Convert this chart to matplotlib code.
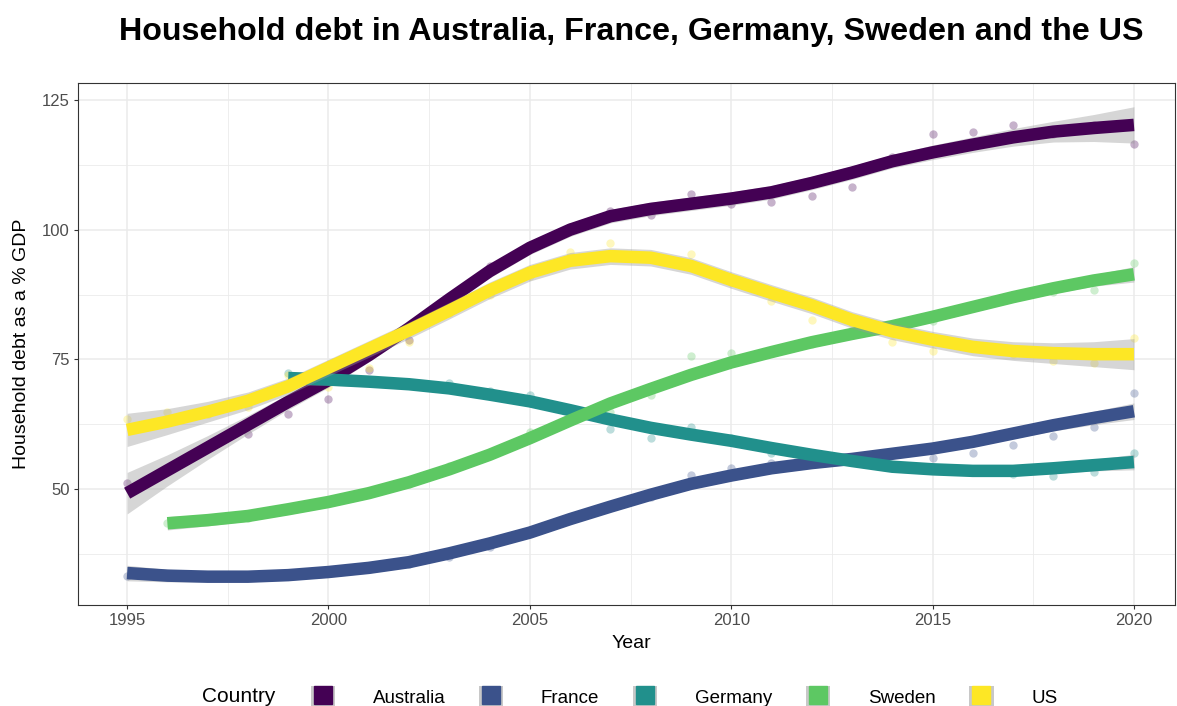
import numpy as np
import matplotlib
matplotlib.use('Agg')
from matplotlib import pyplot as plt
from matplotlib.patches import Patch
from matplotlib.lines import Line2D
from matplotlib.legend_handler import HandlerTuple

plt.rcParams['font.family'] = ['Liberation Sans', 'DejaVu Sans']

countries = ['Australia', 'France', 'Germany', 'Sweden', 'US']
colors = ['#440154', '#3B528B', '#21908C', '#5DC863', '#FDE725']

years_all = list(range(1995, 2021))
years_ger = list(range(1999, 2021))
years_swe = list(range(1996, 2021))

# observed values (points)
aus_pts = [51.1, 54.1, 58.0, 60.7, 64.5, 67.4, 73.0, 78.8, 87.0, 93.0, 97.1, 100.6, 103.6,
           102.8, 106.8, 105.0, 105.3, 106.4, 108.2, 114.0, 118.5, 118.9, 120.2, 118.5, 120.2, 116.6]
fra_pts = [33.2, 33.5, 33.3, 33.0, 33.6, 34.0, 34.5, 35.5, 36.9, 38.8, 41.5, 44.5, 46.5,
           48.5, 52.7, 54.0, 55.0, 55.5, 55.8, 56.5, 56.0, 57.0, 58.4, 60.2, 62.0, 68.5]
ger_pts = [72.3, 71.2, 70.8, 70.2, 70.5, 68.9, 68.1, 65.0, 61.6, 59.8, 62.0, 59.8, 56.9,
           56.5, 55.5, 54.5, 54.0, 53.7, 52.9, 52.5, 53.3, 56.9]
swe_pts = [43.4, 44.2, 44.5, 46.0, 47.5, 49.5, 51.0, 54.5, 57.0, 61.0, 63.5, 64.9, 68.1,
           75.7, 76.2, 76.5, 78.0, 80.5, 81.5, 82.4, 85.0, 87.0, 88.0, 88.4, 93.6]
us_pts = [63.5, 64.9, 64.5, 65.8, 72.0, 69.7, 73.4, 78.4, 84.0, 87.5, 91.0, 95.7, 97.5,
          94.5, 95.4, 90.0, 86.3, 82.6, 82.0, 78.4, 76.6, 77.5, 76.0, 74.7, 74.3, 79.1]

# smoothed trend and half width of the band
aus_fit = [49.2, 53.6, 58.0, 62.4, 66.8, 71.0, 75.8, 81.0, 86.6, 92.0, 96.5, 100.0, 102.6,
           104.0, 105.0, 106.0, 107.2, 109.0, 111.0, 113.2, 114.9, 116.4, 117.8, 118.9, 119.6, 120.2]
fra_fit = [33.8, 33.3, 33.1, 33.1, 33.4, 34.0, 34.8, 35.9, 37.6, 39.5, 41.6, 44.2, 46.6,
           48.9, 51.0, 52.6, 54.0, 55.0, 55.8, 56.8, 57.8, 59.1, 60.7, 62.3, 63.7, 65.0]
ger_fit = [71.4, 71.1, 70.7, 70.2, 69.4, 68.2, 66.9, 65.2, 63.4, 61.8, 60.5, 59.3, 57.9,
           56.6, 55.4, 54.3, 53.8, 53.5, 53.5, 54.0, 54.6, 55.2]
swe_fit = [43.4, 44.0, 44.8, 46.1, 47.5, 49.2, 51.3, 53.8, 56.6, 59.8, 63.2, 66.5, 69.3,
           72.0, 74.4, 76.4, 78.3, 79.9, 81.4, 83.2, 85.1, 87.0, 88.7, 90.2, 91.4]
us_fit = [61.4, 63.0, 64.9, 67.0, 69.8, 73.4, 77.0, 80.6, 84.4, 88.3, 91.7, 94.0, 94.9,
          94.6, 93.0, 90.3, 87.8, 85.4, 82.6, 80.4, 78.8, 77.4, 76.6, 76.2, 76.0, 76.0]

aus_se = [4.0, 3.0, 2.3, 1.8, 1.5, 1.4, 1.3, 1.3, 1.3, 1.3, 1.3, 1.3, 1.3,
          1.3, 1.3, 1.3, 1.3, 1.3, 1.3, 1.3, 1.4, 1.5, 1.7, 2.0, 2.6, 3.5]
fra_se = [1.5, 1.2, 1.0, 1.0, 1.0, 1.0, 1.0, 1.0, 1.0, 1.0, 1.0, 1.0, 1.0,
          1.0, 1.0, 1.0, 1.0, 1.0, 1.0, 1.0, 1.0, 1.0, 1.0, 1.1, 1.3, 1.6]
ger_se = [1.3, 1.1, 1.0, 1.0, 1.0, 1.0, 1.0, 1.0, 1.0, 1.0, 1.0, 1.0, 1.0,
          1.0, 1.0, 1.0, 1.0, 1.0, 1.0, 1.0, 1.1, 1.5]
swe_se = [1.3, 1.1, 1.0, 1.0, 1.0, 1.0, 1.0, 1.0, 1.0, 1.0, 1.0, 1.0, 1.0,
          1.0, 1.0, 1.0, 1.0, 1.0, 1.0, 1.0, 1.0, 1.0, 1.0, 1.1, 1.5]
us_se = [3.2, 2.5, 2.0, 1.7, 1.6, 1.6, 1.6, 1.6, 1.6, 1.6, 1.6, 1.6, 1.6,
         1.6, 1.6, 1.6, 1.6, 1.6, 1.6, 1.6, 1.6, 1.7, 1.8, 2.0, 2.4, 3.0]

series = [
    (years_all, aus_pts, aus_fit, aus_se),
    (years_all, fra_pts, fra_fit, fra_se),
    (years_ger, ger_pts, ger_fit, ger_se),
    (years_swe, swe_pts, swe_fit, swe_se),
    (years_all, us_pts, us_fit, us_se),
]

fig = plt.figure(figsize=(11.77, 7.06), dpi=100)
ax = fig.add_axes([78 / 1177, 1 - 605 / 706, (1175 - 78) / 1177, (605 - 83) / 706])

# points first, behind the smooth curves
for (yrs, pts, fit, se), c in zip(series, colors):
    ax.scatter(yrs, pts, s=36, color=c, alpha=0.3, lw=0, zorder=2)

for i, ((yrs, pts, fit, se), c) in enumerate(zip(series, colors)):
    fit = np.array(fit)
    se = np.array(se)
    ax.fill_between(yrs, fit - se, fit + se, color='#999999', alpha=0.4, lw=0, zorder=3 + 2 * i)
    ax.plot(yrs, fit, color=c, lw=9, solid_capstyle='butt', solid_joinstyle='round', zorder=4 + 2 * i)

ax.set_xlim(1993.78, 2021.02)
ax.set_ylim(27.64, 128.28)
ax.set_xticks([1995, 2000, 2005, 2010, 2015, 2020])
ax.set_xticks([1997.5, 2002.5, 2007.5, 2012.5, 2017.5], minor=True)
ax.set_yticks([50, 75, 100, 125])
ax.set_yticks([37.5, 62.5, 87.5, 112.5], minor=True)
ax.grid(True, which='major', color='#EBEBEB', lw=1.1, zorder=0)
ax.grid(True, which='minor', color='#EBEBEB', lw=0.6, zorder=0)
ax.set_axisbelow(True)
ax.tick_params(which='major', length=3, width=0.8, color='#333333', labelsize=12,
               labelcolor='#4D4D4D', pad=3)
ax.tick_params(which='minor', length=0)
for sp in ax.spines.values():
    sp.set_color('#333333')
    sp.set_linewidth(0.8)

fig.text(631 / 1177, 1 - 32 / 706, 'Household debt in Australia, France, Germany, Sweden and the US',
         ha='center', va='center', fontsize=23.2, fontweight='bold')
fig.text(631 / 1177, 1 - 643 / 706, 'Year', ha='center', va='center', fontsize=14)
fig.text(22 / 1177, 1 - 344 / 706, 'Household debt as a % GDP', ha='center', va='center',
         rotation=90, fontsize=14)

# legend
fig.text(202 / 1177, 1 - 697 / 706, 'Country', ha='left', va='center', fontsize=15)
handles = [(Patch(facecolor='#C8C8C8', edgecolor='none'),
            Line2D([], [], color=c, marker='s', markersize=13, linestyle='none'))
           for c in colors]
fig.legend(handles, countries, handler_map={tuple: HandlerTuple(ndivide=1, pad=0)},
           loc='center', bbox_to_anchor=(684 / 1177, 1 - 697 / 706), ncol=5, frameon=False,
           fontsize=13.5, handlelength=1.3, handleheight=1.4, handletextpad=2.0,
           columnspacing=1.8, borderpad=0)

fig.savefig('out.png', dpi=100)
